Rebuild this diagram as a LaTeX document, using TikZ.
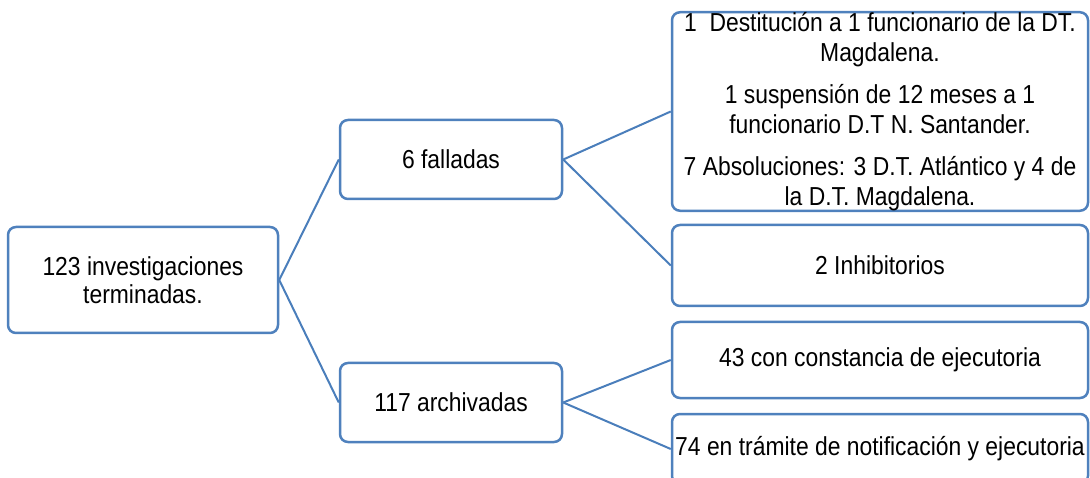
\documentclass[tikz,border=0pt]{standalone}
\usepackage{fontspec}
\setmainfont[FakeStretch=0.88]{Liberation Sans}
\usepackage{xcolor}
\usepackage{tikz}
\usetikzlibrary{positioning}
\definecolor{bd}{HTML}{4F81BD}
\definecolor{ln}{HTML}{4A7EBB}

\begin{document}
\begin{tikzpicture}[x=1pt,y=-1pt,
  box/.style={draw=bd, line width=2.5pt, rounded corners=8pt, fill=white,
    align=center, inner sep=0pt, font=\fontsize{26}{28}\selectfont},
  link/.style={draw=ln, line width=2pt}]
  \useasboundingbox (0,0) rectangle (1090,478);
  \clip (0,0) rectangle (1090,478);
  % level 0
  \node[box, minimum width=270pt, minimum height=106pt] (inv) at (143,280)
    {123 investigaciones\\terminadas.};
  % level 1
  \node[box, minimum width=222pt, minimum height=79pt] (fal) at (451,159.5) {6 falladas};
  \node[box, minimum width=222pt, minimum height=79pt] (arc) at (451,402.5) {117 archivadas};
  % level 2
  \node[box, minimum width=416pt, minimum height=197pt,
    font=\fontsize{26}{30}\selectfont] (san) at (880,111.5)
    {1\ \ Destitución a 1 funcionario de la DT.\\Magdalena.\\[12pt]
     1 suspensión de 12 meses a 1\\funcionario D.T N. Santander.\\[12pt]
     7 Absoluciones: 3 D.T. Atlántico y 4 de\\la D.T. Magdalena.};
  \node[box, minimum width=416pt, minimum height=81pt] (inh) at (880,265.5) {2 Inhibitorios};
  \node[box, minimum width=416pt, minimum height=76pt] (con) at (880,360) {43 con constancia de ejecutoria};
  \node[box, minimum width=416pt, minimum height=70pt] (tra) at (880,449) {74 en trámite de notificación y ejecutoria};
  % connectors
  \draw[link] (inv.east) -- (fal.west);
  \draw[link] (inv.east) -- (arc.west);
  \draw[link] (fal.east) -- (san.west);
  \draw[link] (fal.east) -- (inh.west);
  \draw[link] (arc.east) -- (con.west);
  \draw[link] (arc.east) -- (tra.west);
\end{tikzpicture}
\end{document}
